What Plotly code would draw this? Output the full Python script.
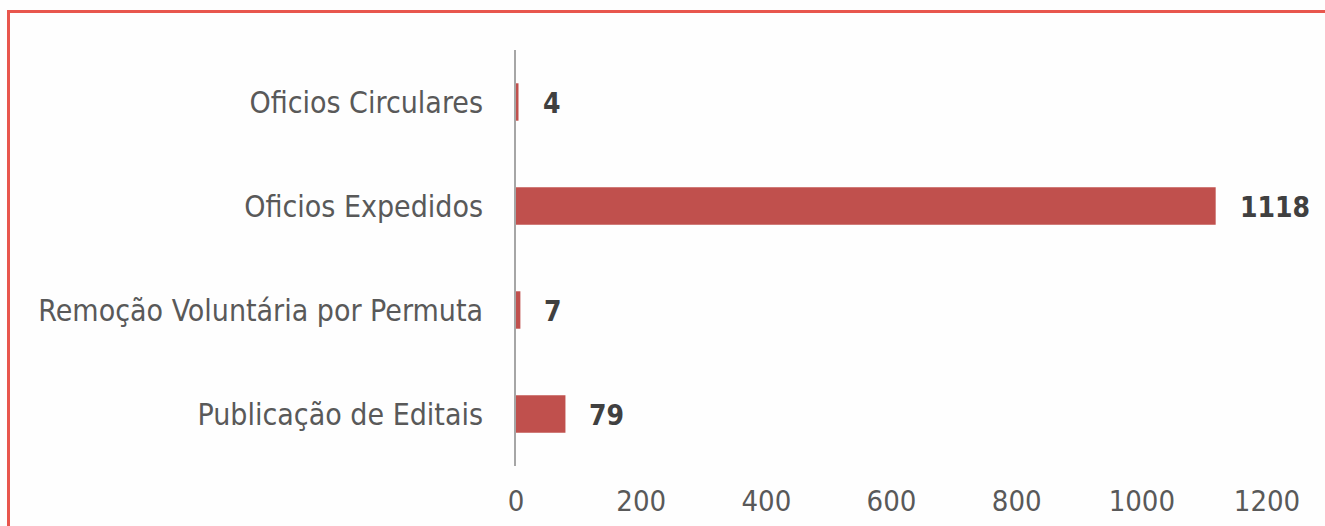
import plotly.graph_objects as go

categories = ["Oficios Circulares", "Oficios Expedidos", "Remoção Voluntária por Permuta", "Publicação de Editais"]
values = [4, 1118, 7, 79]
tick_vals = [0, 200, 400, 600, 800, 1000, 1200]

FONT = "Liberation Sans Narrow, Arial Narrow, DejaVu Sans Condensed, sans-serif"
BAR = "#C0504D"

W, H = 1325, 526
L, R, T, B = 516, 58, 50, 60
pw = W - L - R
ph = H - T - B

fig = go.Figure()
fig.add_trace(go.Bar(
    x=values, y=categories, orientation="h",
    marker=dict(color=BAR, line=dict(width=0)),
    width=0.36,
))

for c, v in zip(categories, values):
    fig.add_annotation(x=v, y=c, text="<b>%d</b>" % v, showarrow=False,
                       xanchor="left", yanchor="middle", xshift=22, yshift=-1,
                       font=dict(family=FONT, size=28, color="#404040"))

# red frame (left and top sides visible, others outside the canvas)
fig.add_shape(type="rect", xref="paper", yref="paper",
              x0=(8.5 - L) / pw, x1=(1340 - L) / pw,
              y0=(H - B - 540) / ph, y1=(H - B - 11.5) / ph,
              line=dict(color="#E8564D", width=3), fillcolor="rgba(0,0,0,0)")

fig.update_layout(
    width=W, height=H,
    margin=dict(l=L, r=R, t=T, b=B),
    paper_bgcolor="#FEFEFE", plot_bgcolor="#FEFEFE",
    showlegend=False,
    font=dict(family=FONT, size=30, color="#595959"),
    xaxis=dict(range=[0, 1200], tickvals=tick_vals, showgrid=False, zeroline=False,
               showline=False, ticks="", ticklabelstandoff=15, automargin=False,
               tickfont=dict(family=FONT, size=29, color="#595959")),
    yaxis=dict(autorange="reversed", showgrid=False, zeroline=False,
               showline=True, linecolor="#A6A6A6", linewidth=2, ticks="",
               ticklabelstandoff=25, automargin=False,
               tickfont=dict(family=FONT, size=30, color="#595959")),
)

fig.write_html("out.html", config={"displayModeBar": False},
               post_script="document.body.style.margin='0';document.body.style.overflow='hidden';")
